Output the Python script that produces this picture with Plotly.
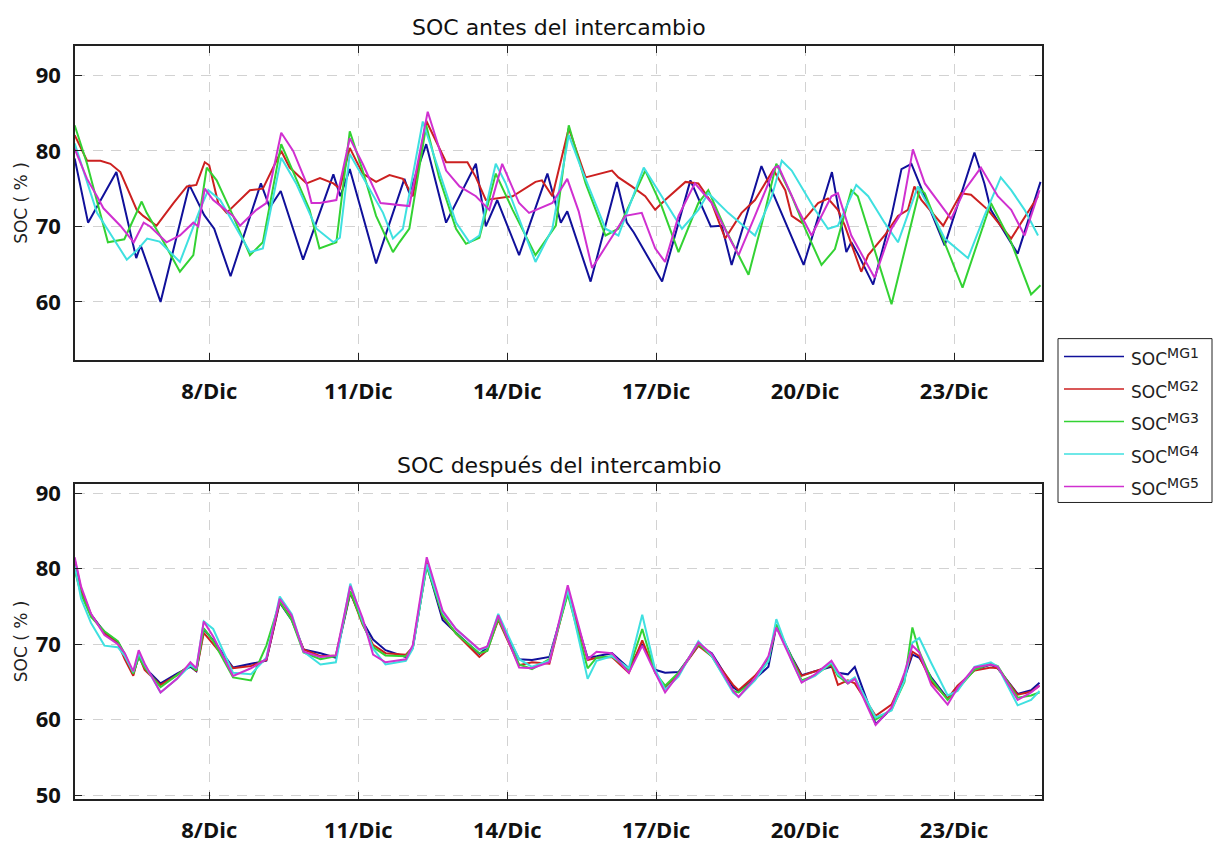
import numpy as np
import pandas as pd
import plotly.graph_objects as go

# ---------------------------------------------------------------------------
# State of charge (SOC, %) of five microgrids, December.
# Times are given as day-of-month with fractional hours.
# ---------------------------------------------------------------------------

# --- before the energy exchange -------------------------------------------
t_mg1 = [5.29, 5.56, 6.13, 6.53, 6.62, 7.02, 7.60, 7.90, 8.10, 8.43, 9.04, 9.22, 9.44, 9.89,
         10.50, 10.64, 10.83, 11.36, 11.93, 12.03, 12.37, 12.77, 13.37, 13.57, 13.80, 14.24,
         14.81, 15.08, 15.21, 15.68, 16.21, 16.41, 16.55, 17.12, 17.69, 18.10, 18.32, 18.52,
         19.12, 19.97, 20.54, 20.83, 20.93, 21.06, 21.37, 21.74, 21.94, 22.14, 22.81, 23.41,
         23.61, 23.74, 24.28, 24.74]
soc_mg1 = [79.0, 70.5, 77.2, 65.8, 67.5, 60.0, 75.5, 71.5, 69.7, 63.4, 75.7, 72.5, 74.7, 65.6,
           76.9, 74.0, 77.6, 65.1, 76.3, 74.4, 80.9, 70.5, 78.3, 70.0, 73.5, 66.2,
           77.0, 70.5, 72.0, 62.7, 75.9, 70.5, 69.2, 62.7, 76.1, 70.0, 70.1, 64.9,
           78.0, 64.9, 77.2, 66.6, 67.9, 66.4, 62.3, 71.4, 77.6, 78.3, 67.5, 79.8,
           75.7, 72.2, 66.4, 75.9]

t_mg2 = [5.29, 5.54, 5.81, 6.01, 6.21, 6.54, 6.67, 6.94, 7.28, 7.55, 7.74, 7.91, 8.00, 8.18,
         8.35, 8.82, 9.08, 9.45, 9.62, 9.96, 10.23, 10.50, 10.63, 10.83, 11.09, 11.36, 11.63,
         11.90, 12.10, 12.37, 12.77, 13.20, 13.37, 13.57, 14.11, 14.57, 14.70, 14.91, 15.24,
         15.58, 16.11, 16.24, 16.51, 16.78, 16.98, 17.18, 17.59, 17.85, 18.12, 18.39, 18.72,
         18.99, 19.36, 19.60, 19.73, 19.93, 20.26, 20.46, 20.66, 20.80, 21.13, 21.27, 21.60,
         21.87, 22.07, 22.20, 22.34, 22.78, 23.14, 23.34, 23.68, 24.15, 24.69]
soc_mg2 = [82.1, 78.7, 78.7, 78.3, 77.2, 72.2, 71.4, 70.1, 73.1, 75.3, 75.5, 78.5, 78.1, 73.1,
           71.8, 74.8, 75.0, 80.0, 77.8, 75.7, 76.4, 75.7, 75.0, 80.4, 77.0, 75.9, 76.8,
           76.3, 74.0, 84.0, 78.5, 78.5, 76.5, 73.5, 74.0, 75.9, 76.1, 74.0, 83.0,
           76.5, 77.4, 76.5, 75.3, 74.0, 72.2, 73.5, 75.9, 75.7, 73.1, 68.4, 71.8,
           73.5, 77.5, 74.8, 71.4, 70.5, 73.1, 73.7, 72.2, 70.1, 64.0, 66.2, 68.8,
           71.4, 72.2, 75.3, 73.5, 70.1, 74.4, 74.2, 72.2, 68.4, 74.0]

t_mg3 = [5.29, 5.54, 5.96, 6.29, 6.64, 6.74, 7.01, 7.41, 7.68, 7.95, 8.15, 8.48, 8.82, 9.08,
         9.45, 9.62, 10.02, 10.22, 10.56, 10.83, 11.09, 11.36, 11.70, 11.83, 12.03, 12.37,
         12.63, 12.97, 13.17, 13.44, 13.77, 14.11, 14.57, 14.98, 15.24, 15.58, 15.98, 16.24,
         16.78, 17.11, 17.45, 17.85, 18.05, 18.39, 18.86, 19.20, 19.42, 19.73, 20.00, 20.33,
         20.60, 20.93, 21.06, 21.74, 22.31, 22.41, 23.17, 23.74, 24.15, 24.55, 24.74]
soc_mg3 = [83.4, 78.3, 67.9, 68.3, 73.3, 71.8, 68.8, 64.0, 66.2, 77.8, 76.1, 71.4, 66.2, 67.9,
           80.9, 78.3, 72.2, 67.1, 67.9, 82.6, 77.4, 71.4, 66.6, 67.9, 69.7, 83.4,
           76.5, 69.7, 67.7, 68.5, 77.0, 72.2, 66.2, 70.1, 83.4, 75.7, 68.8, 69.7,
           77.4, 72.7, 66.6, 73.1, 74.8, 69.7, 63.6, 72.2, 78.3, 74.0, 69.7, 64.9,
           67.0, 74.8, 74.0, 59.7, 75.0, 74.4, 61.9, 73.1, 67.9, 61.0, 62.2]

t_mg4 = [5.29, 5.74, 6.07, 6.34, 6.54, 6.75, 7.00, 7.41, 7.81, 7.98, 8.22, 8.82, 9.08, 9.45,
         9.75, 10.16, 10.50, 10.63, 10.83, 11.16, 11.50, 11.70, 11.90, 12.30, 12.63, 12.97,
         13.24, 13.44, 13.77, 13.97, 14.57, 14.91, 15.24, 15.51, 15.98, 16.24, 16.75, 17.11,
         17.52, 17.85, 18.05, 18.45, 18.99, 19.33, 19.53, 19.73, 20.20, 20.46, 20.66, 21.03,
         21.27, 21.60, 21.87, 22.27, 22.54, 22.81, 23.28, 23.61, 23.94, 24.15, 24.42, 24.69]
soc_mg4 = [81.0, 71.8, 68.4, 65.6, 66.8, 68.4, 68.0, 65.3, 72.2, 74.8, 73.5, 66.6, 67.1, 79.1,
           75.7, 69.7, 67.9, 68.5, 79.6, 75.7, 71.8, 68.4, 69.7, 83.9, 77.4, 70.5,
           67.9, 68.8, 78.3, 75.7, 65.3, 69.7, 82.1, 77.4, 69.7, 68.8, 77.8, 74.0,
           69.7, 72.2, 74.4, 71.8, 68.8, 74.0, 78.7, 77.4, 72.2, 69.7, 70.1, 75.5,
           74.0, 70.5, 67.9, 75.3, 72.0, 68.4, 65.8, 71.4, 76.5, 74.8, 72.2, 68.8]

t_mg5 = [5.29, 5.54, 5.74, 5.87, 6.21, 6.48, 6.68, 6.81, 7.14, 7.41, 7.68, 7.78, 7.91, 8.08,
         8.48, 8.62, 8.95, 9.15, 9.45, 9.69, 9.96, 10.06, 10.23, 10.56, 10.83, 11.09, 11.45,
         11.92, 12.03, 12.40, 12.77, 13.04, 13.37, 13.64, 13.90, 14.24, 14.44, 14.91, 15.21,
         15.44, 15.71, 16.04, 16.38, 16.71, 16.98, 17.18, 17.45, 17.78, 18.12, 18.52, 18.66,
         18.99, 19.39, 19.46, 19.86, 20.13, 20.53, 20.66, 20.93, 21.40, 21.74, 21.94, 22.17,
         22.41, 22.81, 22.94, 23.21, 23.54, 23.88, 24.15, 24.42, 24.72]
soc_mg5 = [80.3, 76.3, 74.0, 72.4, 70.1, 67.9, 70.5, 70.0, 67.9, 68.8, 70.5, 70.0, 75.0, 73.5,
           71.4, 70.1, 72.2, 73.1, 82.4, 80.0, 75.7, 73.1, 73.1, 73.5, 81.7, 78.3, 73.1,
           72.7, 72.7, 85.2, 77.4, 75.3, 74.0, 72.2, 78.3, 73.1, 71.8, 73.1, 76.3,
           72.0, 64.5, 67.9, 71.4, 71.8, 67.1, 65.3, 71.4, 75.7, 73.1, 67.9, 66.2,
           71.4, 77.8, 78.0, 72.2, 68.8, 74.0, 74.4, 68.8, 63.2, 69.7, 71.8, 80.2,
           75.7, 72.2, 71.0, 74.8, 77.8, 74.0, 72.2, 68.8, 74.8]

# --- after the energy exchange (common time base) -------------------------
t_after = [5.29, 5.42, 5.62, 5.89, 6.16, 6.30, 6.47, 6.58, 6.70, 7.02,
           7.35, 7.62, 7.74, 7.89, 8.08, 8.48, 8.84, 9.15, 9.42, 9.66,
           9.90, 10.24, 10.55, 10.84, 11.09, 11.30, 11.55, 11.96, 12.10, 12.38,
           12.70, 12.97, 13.44, 13.60, 13.82, 14.24, 14.50, 14.85, 15.22, 15.62,
           15.80, 16.11, 16.45, 16.72, 16.98, 17.18, 17.45, 17.85, 18.12, 18.55,
           18.66, 18.99, 19.26, 19.42, 19.73, 19.93, 20.20, 20.53, 20.66, 20.86,
           21.00, 21.42, 21.74, 22.00, 22.16, 22.30, 22.54, 22.87, 23.07, 23.41,
           23.74, 23.88, 24.28, 24.55, 24.72]
soc_after_mg1 = [80.6, 76.8, 73.9, 71.6, 70.3, 68.6, 66.0, 68.4, 66.9, 64.8,
                 66.1, 67.0, 66.4, 72.0, 70.5, 66.9, 67.4, 67.8, 75.5, 73.2,
                 69.3, 68.8, 68.2, 76.8, 73.0, 70.6, 69.2, 68.3, 69.5, 80.5,
                 73.2, 71.5, 68.7, 69.6, 73.3, 68.0, 67.9, 68.3, 76.8, 68.2,
                 68.4, 68.8, 66.8, 70.0, 66.6, 66.2, 66.3, 69.8, 68.8, 64.3,
                 63.8, 65.4, 67.0, 72.4, 68.3, 65.9, 66.4, 67.0, 66.2, 66.0,
                 67.0, 59.4, 61.5, 65.5, 68.6, 68.2, 65.6, 62.8, 64.4, 66.6,
                 67.3, 66.8, 63.4, 63.9, 64.9]
soc_after_mg2 = [81.2, 77.3, 73.9, 71.4, 70.1, 68.0, 65.8, 68.5, 66.6, 64.6,
                 65.9, 67.3, 66.4, 71.5, 70.0, 66.8, 67.1, 67.9, 75.6, 73.4,
                 69.3, 68.4, 68.5, 76.9, 72.6, 69.9, 68.8, 68.6, 69.6, 80.8,
                 73.7, 71.4, 68.3, 69.2, 73.2, 67.2, 67.6, 67.4, 77.0, 67.9,
                 68.2, 68.3, 66.2, 70.5, 66.3, 64.2, 66.1, 69.8, 68.4, 64.6,
                 63.9, 65.8, 68.0, 72.4, 68.1, 65.8, 66.4, 67.2, 64.6, 65.2,
                 64.8, 60.5, 62.0, 65.8, 69.0, 68.4, 65.0, 62.8, 64.5, 66.5,
                 66.9, 66.8, 63.3, 63.7, 64.5]
soc_after_mg3 = [79.8, 76.6, 73.6, 71.7, 70.4, 68.7, 66.1, 68.3, 66.9, 64.3,
                 65.9, 67.2, 66.5, 72.1, 70.4, 65.6, 65.2, 69.8, 75.6, 73.2,
                 68.9, 68.0, 68.4, 77.0, 72.7, 69.6, 68.5, 68.4, 69.6, 80.3,
                 73.8, 71.4, 68.8, 69.1, 73.4, 67.3, 66.7, 68.0, 76.6, 66.8,
                 68.2, 68.4, 66.6, 72.0, 66.2, 64.5, 66.2, 70.0, 68.4, 63.8,
                 63.6, 65.3, 67.8, 72.6, 68.2, 65.2, 65.9, 67.4, 65.8, 64.8,
                 65.5, 60.0, 61.3, 65.0, 72.2, 69.0, 65.4, 62.6, 64.0, 66.6,
                 67.4, 67.1, 62.9, 63.2, 63.6]
soc_after_mg4 = [80.4, 76.0, 72.8, 69.8, 69.6, 68.4, 66.3, 68.8, 67.3, 63.6,
                 65.4, 67.2, 66.8, 73.0, 72.0, 66.2, 66.0, 68.2, 76.3, 74.0,
                 69.0, 67.3, 67.6, 78.0, 73.0, 69.4, 67.3, 67.8, 69.4, 80.6,
                 74.2, 72.0, 69.2, 69.6, 74.0, 68.0, 67.0, 67.8, 77.2, 65.4,
                 67.8, 68.4, 66.8, 73.9, 66.6, 64.0, 65.7, 70.4, 68.4, 63.6,
                 63.0, 65.2, 67.8, 73.3, 67.8, 65.0, 65.8, 67.6, 66.0, 65.0,
                 65.6, 60.3, 61.2, 65.2, 70.2, 70.8, 67.5, 63.2, 63.8, 67.0,
                 67.6, 67.0, 61.9, 62.6, 63.8]
soc_after_mg5 = [81.5, 77.6, 74.0, 71.2, 70.0, 68.8, 66.4, 69.2, 67.4, 63.6,
                 65.4, 67.6, 66.8, 73.0, 71.0, 65.8, 66.8, 68.0, 76.0, 73.8,
                 69.0, 68.3, 68.5, 77.7, 73.4, 68.6, 67.6, 68.0, 69.9, 81.5,
                 74.4, 72.0, 69.3, 69.7, 73.8, 66.9, 66.8, 67.6, 77.8, 68.0,
                 69.0, 68.8, 66.2, 69.8, 66.2, 63.6, 66.0, 70.2, 68.7, 63.8,
                 63.0, 65.5, 68.4, 72.2, 67.8, 64.9, 66.0, 67.8, 66.4, 64.8,
                 65.4, 59.3, 61.6, 66.2, 69.8, 68.9, 64.6, 62.0, 64.2, 66.9,
                 67.3, 67.0, 62.6, 63.6, 64.5]

series_names = ["MG1", "MG2", "MG3", "MG4", "MG5"]
series_colors = ["#10109a", "#cc2020", "#33d233", "#3fe0e0", "#d030d0"]

tick_days = [8, 11, 14, 17, 20, 23]
tick_labels = ["8/Dic", "11/Dic", "14/Dic", "17/Dic", "20/Dic", "23/Dic"]
x_start_day, x_end_day = 5.297, 24.77

MONTH_START = pd.Timestamp("2016-12-01")


def to_time(days):
    return MONTH_START + pd.to_timedelta(np.asarray(days, dtype=float) - 1.0, unit="D")


# Figure geometry (pixels) used to place the side legend
W, H = 1214, 856
M_L, M_R, M_T, M_B = 75, 172, 46, 38
PLOT_W, PLOT_H = W - M_L - M_R, H - M_T - M_B


def px_x(px):
    return (px - M_L) / PLOT_W


def px_y(py):
    return (H - M_B - py) / PLOT_H


before = [(t_mg1, soc_mg1), (t_mg2, soc_mg2), (t_mg3, soc_mg3), (t_mg4, soc_mg4), (t_mg5, soc_mg5)]
after = [soc_after_mg1, soc_after_mg2, soc_after_mg3, soc_after_mg4, soc_after_mg5]

fig = go.Figure()

for (tt, vv), name, color in zip(before, series_names, series_colors):
    fig.add_trace(go.Scatter(
        x=to_time(tt), y=vv, mode="lines", xaxis="x", yaxis="y",
        line=dict(color=color, width=2),
        name=f"SOC<sup>{name}</sup>", showlegend=False,
    ))

for vv, name, color in zip(after, series_names, series_colors):
    fig.add_trace(go.Scatter(
        x=to_time(t_after), y=vv, mode="lines", xaxis="x2", yaxis="y2",
        line=dict(color=color, width=2),
        name=f"SOC<sup>{name}</sup>", showlegend=False,
    ))

tick_font = dict(family="Open Sans", size=22, color="#111111", weight="bold")
x_range = [to_time([x_start_day])[0], to_time([x_end_day])[0]]

common_x = dict(
    range=x_range, tickmode="array", tickvals=to_time(tick_days), ticktext=tick_labels,
    tickfont=tick_font, ticks="inside", ticklen=7, tickcolor="#222222",
    showline=True, linecolor="#222222", linewidth=1.5, mirror="ticks",
    showgrid=True, gridcolor="#d2d2d2", gridwidth=1, griddash="10px,8px",
    zeroline=False, ticklabelstandoff=11,
)
common_y = dict(
    tickfont=tick_font, ticks="inside", ticklen=7, tickcolor="#222222",
    showline=True, linecolor="#222222", linewidth=1.5, mirror="ticks",
    showgrid=True, gridcolor="#d2d2d2", gridwidth=1, griddash="10px,8px",
    zeroline=False, ticklabelstandoff=8,
    title=dict(text="SOC ( % )", font=dict(family="DejaVu Sans", size=17, color="#222222"),
               standoff=4),
)

# Side legend: framed box with a line sample and a label per microgrid
legend_shapes = [dict(type="rect", xref="paper", yref="paper",
                      x0=px_x(1058), x1=px_x(1212), y0=px_y(514), y1=px_y(346),
                      line=dict(color="#222222", width=1), fillcolor="white", layer="above")]
legend_labels = []
for k, (name, color) in enumerate(zip(series_names, series_colors)):
    y_line = 364.3 + k * 33.3
    legend_shapes.append(dict(type="line", xref="paper", yref="paper",
                              x0=px_x(1064), x1=px_x(1124), y0=px_y(y_line), y1=px_y(y_line),
                              line=dict(color=color, width=1.5), layer="above"))
    legend_labels.append(dict(
        text=f"SOC<sup><span style='font-size:14px'>{name}</span></sup>",
        xref="paper", yref="paper", x=px_x(1129), y=px_y(y_line + 1), xanchor="left",
        yanchor="middle", showarrow=False,
        font=dict(family="DejaVu Sans", size=17, color="#222222")))

fig.update_layout(
    width=W, height=H,
    margin=dict(l=M_L, r=M_R, t=M_T, b=M_B),
    paper_bgcolor="white", plot_bgcolor="white",
    xaxis=dict(domain=[0, 1], anchor="y", **common_x),
    yaxis=dict(domain=[0.5829, 1.0], anchor="x", range=[52.3, 93.9],
               tickvals=[60, 70, 80, 90], **common_y),
    xaxis2=dict(domain=[0, 1], anchor="y2", **common_x),
    yaxis2=dict(domain=[0.0, 0.4184], anchor="x2", range=[49.5, 91.2],
                tickvals=[50, 60, 70, 80, 90], **common_y),
    shapes=legend_shapes,
    annotations=[
        dict(text="SOC antes del intercambio", xref="paper", yref="paper", x=0.5, y=px_y(27),
             xanchor="center", yanchor="middle", showarrow=False,
             font=dict(family="DejaVu Sans", size=22, color="#111111")),
        dict(text="SOC después del intercambio", xref="paper", yref="paper", x=0.5, y=px_y(476),
             xanchor="center", yanchor="middle", showarrow=False,
             font=dict(family="DejaVu Sans", size=22, color="#111111")),
    ] + legend_labels,
    showlegend=False,
)

fig.write_html("out.html")
